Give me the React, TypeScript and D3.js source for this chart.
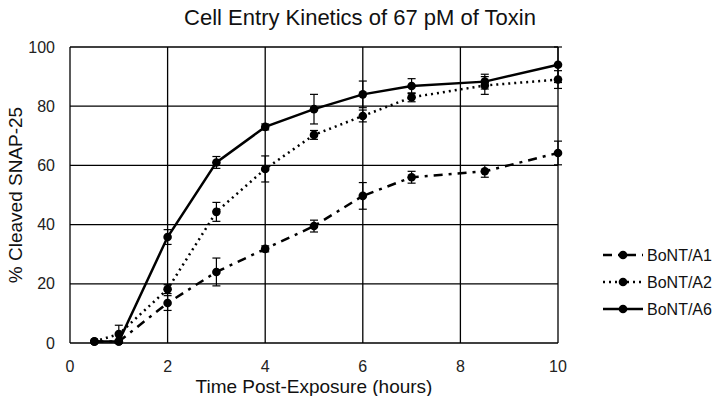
import React, { useEffect, useRef } from 'react';
import * as d3 from 'd3';

const times = [0.5, 1, 2, 3, 4, 5, 6, 7, 8.5, 10];
const seriesNames = ['BoNT/A1', 'BoNT/A2', 'BoNT/A6'];
const a1Values = [0.5, 0.5, 13.5, 24, 31.8, 39.5, 49.7, 56, 58, 64.2];
const a1Errors = [0.3, 0.5, 2.5, 4.7, 1, 2, 4.5, 2, 2, 4];
const a2Values = [0.5, 3, 18.2, 44.3, 58.8, 70.3, 76.7, 83, 87, 89];
const a2Errors = [0.3, 3, 1.5, 3.2, 4.4, 1.5, 2, 1.5, 3, 3];
const a6Values = [0.5, 0.5, 35.8, 61, 73, 79, 84, 86.8, 88.3, 94];
const a6Errors = [0.3, 0.5, 2.5, 2, 1, 5, 4.5, 2.5, 2.5, 6];
const xTicks = [0, 2, 4, 6, 8, 10];
const yTicks = [0, 20, 40, 60, 80, 100];
const dashes = ['9,6,3,6', '2,4', null];

const App = () => {
  const ref = useRef(null);
  const width = 720;
  const height = 404;

  useEffect(() => {
    const svg = d3.select(ref.current);
    svg.selectAll('*').remove();
    const font = '"Liberation Sans", Arial, sans-serif';

    const xScale = d3.scaleLinear().domain([0, 10]).range([70, 558]);
    const yScale = d3.scaleLinear().domain([0, 100]).range([343, 47]);

    svg.append('rect').attr('width', width).attr('height', height).attr('fill', '#fff');

    // grid
    svg.append('g').selectAll('line').data(xTicks).join('line')
      .attr('x1', d => xScale(d)).attr('x2', d => xScale(d))
      .attr('y1', yScale(0)).attr('y2', yScale(100))
      .attr('stroke', '#000').attr('stroke-width', 1.3);
    svg.append('g').selectAll('line').data(yTicks).join('line')
      .attr('x1', xScale(0)).attr('x2', xScale(10))
      .attr('y1', d => yScale(d)).attr('y2', d => yScale(d))
      .attr('stroke', '#000').attr('stroke-width', 1.3);

    // tick labels
    svg.append('g').selectAll('text').data(xTicks).join('text')
      .attr('x', d => xScale(d)).attr('y', 372)
      .attr('text-anchor', 'middle').attr('font-family', font).attr('font-size', 16)
      .attr('fill', '#222').text(d => d);
    svg.append('g').selectAll('text').data(yTicks).join('text')
      .attr('x', 55).attr('y', d => yScale(d) + 5.5)
      .attr('text-anchor', 'end').attr('font-family', font).attr('font-size', 16)
      .attr('fill', '#222').text(d => d);

    // titles
    svg.append('text').attr('x', 360).attr('y', 25).attr('text-anchor', 'middle')
      .attr('font-family', font).attr('font-size', 22).attr('fill', '#111')
      .text('Cell Entry Kinetics of 67 pM of Toxin');
    svg.append('text').attr('x', xScale(5)).attr('y', 393).attr('text-anchor', 'middle')
      .attr('font-family', font).attr('font-size', 19).attr('fill', '#111')
      .text('Time Post-Exposure (hours)');
    svg.append('text').attr('transform', `translate(22, ${yScale(50)}) rotate(-90)`)
      .attr('text-anchor', 'middle')
      .attr('font-family', font).attr('font-size', 19).attr('fill', '#111')
      .text('% Cleaved SNAP-25');

    const allSeries = [
      { values: a1Values, errors: a1Errors },
      { values: a2Values, errors: a2Errors },
      { values: a6Values, errors: a6Errors },
    ];

    const line = d3.line<number>()
      .x((d, i) => xScale(times[i]))
      .y(d => yScale(d));

    allSeries.forEach((s, k) => {
      const g = svg.append('g');
      // error bars
      times.forEach((t, i) => {
        const x = xScale(t);
        const y1 = yScale(s.values[i] - s.errors[i]);
        const y2 = yScale(Math.min(100, s.values[i] + s.errors[i]));
        g.append('line').attr('x1', x).attr('x2', x).attr('y1', y1).attr('y2', y2)
          .attr('stroke', '#000').attr('stroke-width', 1.2);
        [y1, y2].forEach(y => {
          g.append('line').attr('x1', x - 4).attr('x2', x + 4).attr('y1', y).attr('y2', y)
            .attr('stroke', '#000').attr('stroke-width', 1.2);
        });
      });
      const path = g.append('path').datum(s.values).attr('d', line)
        .attr('fill', 'none').attr('stroke', '#000')
        .attr('stroke-width', 2.5);
      if (dashes[k]) path.attr('stroke-dasharray', dashes[k]);
      g.selectAll('circle').data(s.values).join('circle')
        .attr('cx', (d, i) => xScale(times[i])).attr('cy', d => yScale(d))
        .attr('r', 4.3).attr('fill', '#000');
    });

    // legend
    const legend = svg.append('g');
    seriesNames.forEach((name, k) => {
      const y = 255 + k * 27;
      const l = legend.append('line').attr('x1', 603).attr('x2', 643).attr('y1', y).attr('y2', y)
        .attr('stroke', '#000').attr('stroke-width', 2.5);
      if (dashes[k]) l.attr('stroke-dasharray', dashes[k]);
      legend.append('circle').attr('cx', 623).attr('cy', y).attr('r', 4.3).attr('fill', '#000');
      legend.append('text').attr('x', 647).attr('y', y + 5.5)
        .attr('font-family', font).attr('font-size', 16).attr('fill', '#111').text(name);
    });
  }, []);

  return (
    <div style={{ margin: -8 }}>
      <svg ref={ref} width={width} height={height} style={{ display: 'block' }} />
    </div>
  );
};

export default App;
